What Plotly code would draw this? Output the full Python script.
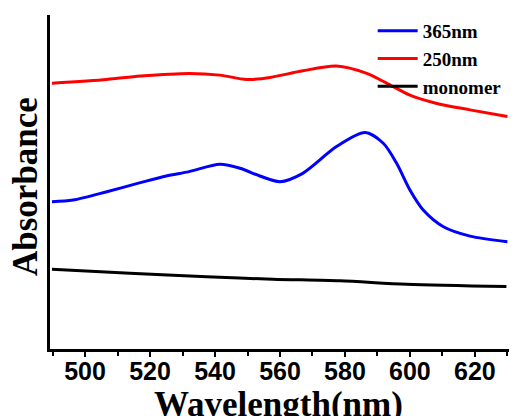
import plotly.graph_objects as go

# Wavelength (nm) and absorbance (a.u.)
wl_365 = [489.8, 496.3, 506.7, 517, 525, 532, 541.5, 547.7, 553.8, 560, 567, 577.4, 586.2,
          591.8, 595.9, 600, 604.1, 610.3, 618.5, 630]
abs_365 = [0.441, 0.446, 0.471, 0.498, 0.518, 0.531, 0.553, 0.541, 0.518, 0.501, 0.526, 0.606,
           0.648, 0.616, 0.556, 0.476, 0.416, 0.366, 0.338, 0.321]

wl_250 = [489.8, 506.7, 517, 532, 541.5, 549.7, 557, 567, 577.4, 586.7, 592.8, 600, 608, 618.5, 630]
abs_250 = [0.796, 0.807, 0.817, 0.825, 0.820, 0.807, 0.813, 0.833, 0.847, 0.825, 0.796, 0.760,
           0.736, 0.716, 0.696]

wl_mono = [489.8, 513.8, 537.4, 557.8, 578.5, 599, 629.7]
abs_mono = [0.239, 0.227, 0.216, 0.209, 0.204, 0.194, 0.187]

names = ["365nm", "250nm", "monomer"]
colors = ["#0000FF", "#FF0000", "#000000"]
x_title = "Wavelength(nm)"
y_title = "Absorbance"

fig = go.Figure()
for x, y, n, c in zip([wl_365, wl_250, wl_mono], [abs_365, abs_250, abs_mono], names, colors):
    fig.add_trace(go.Scatter(x=x, y=y, name=n, mode="lines",
                             line=dict(color=c, width=3, shape="spline", smoothing=0.8)))

serif = "Liberation Serif, Times New Roman, serif"
sans = "Liberation Sans, Arial, sans-serif"
title_font = dict(family=serif, size=35, color="black", weight="bold")

fig.update_layout(
    width=518, height=416,
    margin=dict(l=50, r=9, t=15, b=67),
    paper_bgcolor="white", plot_bgcolor="white",
    showlegend=True,
    legend=dict(x=0.703, xanchor="left", y=1.009, yanchor="top",
                bgcolor="rgba(0,0,0,0)", font=dict(family=serif, size=19, color="black", weight="bold"),
                itemwidth=40, tracegroupgap=0),
    xaxis=dict(range=[489.2, 630.5], showline=True, linecolor="black", linewidth=3,
               automargin=False,
               ticks="outside", ticklen=5, tickwidth=2, tickcolor="black",
               tick0=500, dtick=20, showgrid=False, zeroline=False,
               ticklabelstandoff=-7,
               minor=dict(ticks="outside", ticklen=4, tickwidth=2, tickcolor="black", dtick=10, tick0=490),
               tickfont=dict(family=sans, size=25, color="black", weight="bold")),
    yaxis=dict(range=[0, 1.0], showline=True, linecolor="black", linewidth=3,
               automargin=False,
               showticklabels=False, ticks="", showgrid=False, zeroline=False),
    annotations=[
        dict(text=x_title, xref="paper", yref="paper", x=0.498, y=-0.1647,
             xanchor="center", yanchor="middle", showarrow=False, font=title_font),
        dict(text=y_title, xref="paper", yref="paper", x=-0.0545, y=0.488, textangle=-90,
             xanchor="center", yanchor="middle", showarrow=False, font=title_font),
    ],
)

fig.write_html("out.html", config={"displayModeBar": False},
               post_script="document.body.style.margin='0px';")
